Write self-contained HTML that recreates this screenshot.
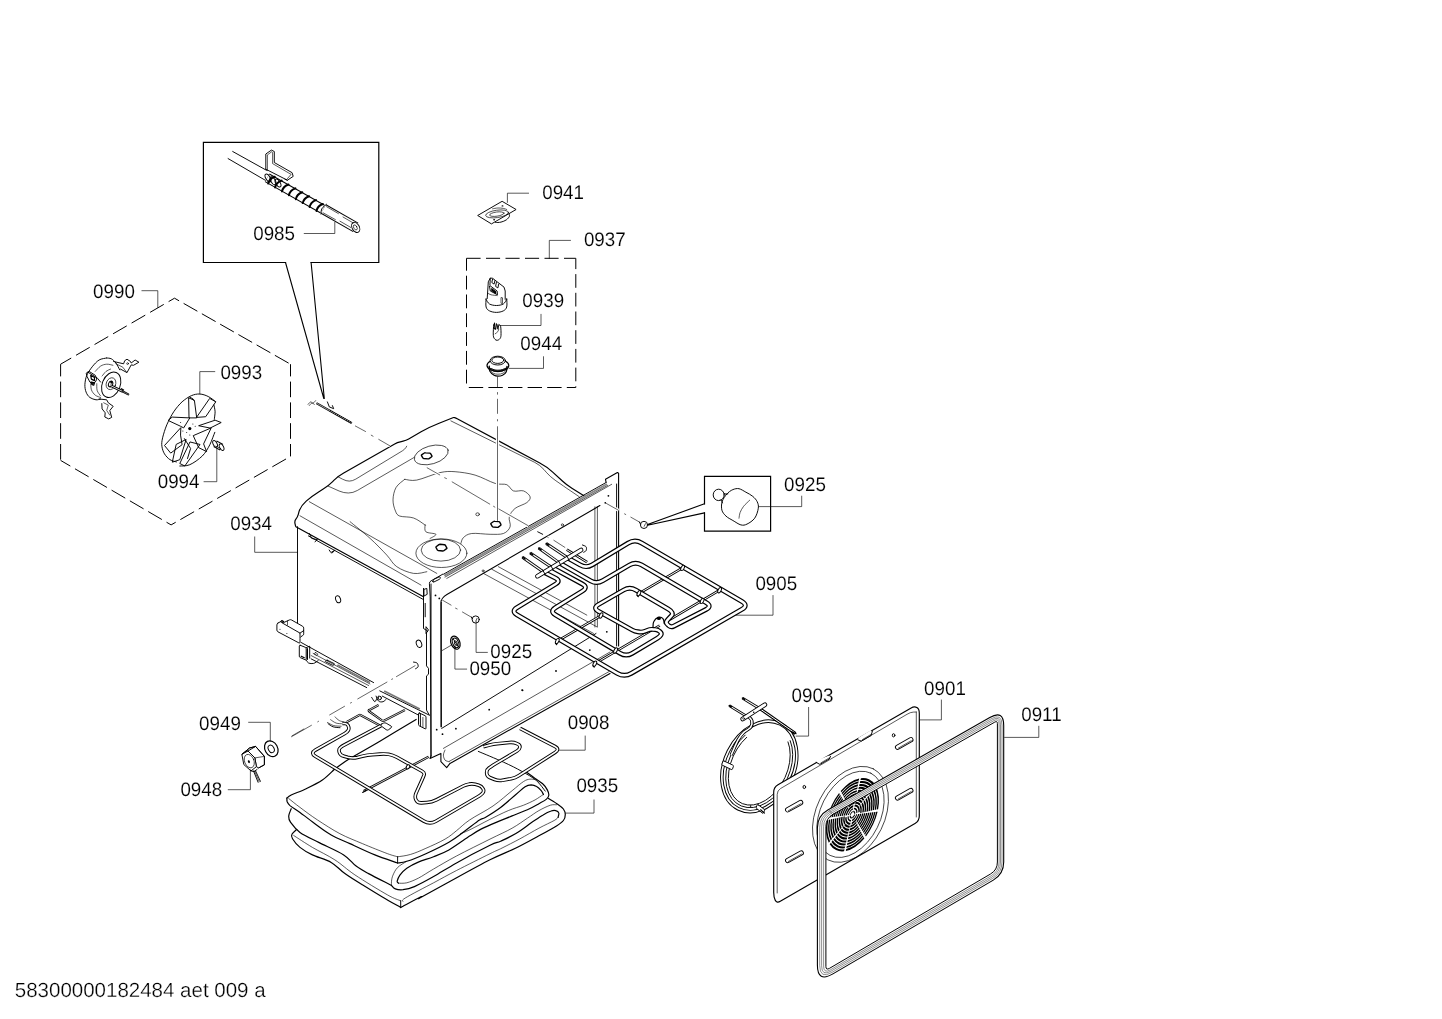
<!DOCTYPE html>
<html lang="en">
<head>
<meta charset="utf-8">
<title>Exploded view 58300000182484 aet 009 a</title>
<style>
html,body{margin:0;padding:0;background:#fff;}
body{width:1442px;height:1019px;overflow:hidden;font-family:"Liberation Sans",sans-serif;}
svg{display:block;position:absolute;left:0;top:0;will-change:transform;}
svg text{font-family:"Liberation Sans",sans-serif;fill:#000;text-rendering:geometricPrecision;stroke:#fff;stroke-width:0.12px;}
.l{fill:none;stroke:#000;stroke-width:0.95;stroke-linecap:round;stroke-linejoin:round;}
.t{fill:none;stroke:#000;stroke-width:0.65;stroke-linecap:round;stroke-linejoin:round;}
.h{fill:none;stroke:#000;stroke-width:1.2;stroke-linecap:round;stroke-linejoin:round;}
.w{fill:#fff;stroke:#000;stroke-width:0.95;stroke-linecap:round;stroke-linejoin:round;}
.d{fill:none;stroke:#000;stroke-width:1.0;stroke-linecap:butt;}
.bx{fill:none;stroke:#000;stroke-width:1.2;stroke-linejoin:miter;stroke-linecap:square;}
.c2{fill:none;stroke:#000;stroke-width:0.6;stroke-linecap:butt;}
.k{fill:#000;stroke:none;}
.hl{fill:none;stroke:#fff;stroke-width:3.2;stroke-linecap:butt;}
.lab{font-size:18.8px;}
</style>
</head>
<body>
<svg width="1442" height="1019" viewBox="0 0 1442 1019">
<rect x="0" y="0" width="1442" height="1019" fill="#fff"/>
<g id="boxes">
<!-- callout 0985 -->
<path class="bx" d="M285.5 262.5H203.4V142.4H378.8V262.5H311.1"/>
<path class="l" d="M285.5 262.5L323.8 398.5M311.1 262.5L324.3 398.5" style="stroke-width:1.1"/>
<!-- dashed hexagon 0990 -->
<path class="d" d="M174.5 298.2L290.5 364.2" stroke-dasharray="15.8 5.2" stroke-dashoffset="10.5"/>
<path class="d" d="M174.5 298.2L60.6 364.2" stroke-dasharray="15.8 5.6" stroke-dashoffset="9"/>
<path class="d" d="M60.6 364.2V460.4" stroke-dasharray="15.6 5.2" stroke-dashoffset="3.4"/>
<path class="d" d="M290.5 364.2V456.4" stroke-dasharray="15.6 5.2" stroke-dashoffset="3.4"/>
<path class="d" d="M171.1 524.9L60.6 460.4" stroke-dasharray="15.8 5.4" stroke-dashoffset="10.5"/>
<path class="d" d="M171.1 524.9L290.5 456.4" stroke-dasharray="15.8 5.4" stroke-dashoffset="10.5"/>
<!-- dashed rect 0937 -->
<path class="d" d="M466.5 258.3H575.8" stroke-dasharray="14.1 5.4" stroke-dashoffset="0"/>
<path class="d" d="M466.5 258.3V387.5" stroke-dasharray="13.8 5" stroke-dashoffset="1.4"/>
<path class="d" d="M575.8 258.3V387.5" stroke-dasharray="13.7 5" stroke-dashoffset="2.9"/>
<path class="d" d="M468.8 387.5H575.8" stroke-dasharray="14.4 5.2" stroke-dashoffset="0"/>
<!-- callout 0925 -->
<path class="bx" d="M704.5 503.8V476.3H770.6V531.2H704.5V512.9"/>
<path class="l" d="M704.5 503.8L647.5 524.4M704.5 512.9L647.5 525.3" style="stroke-width:1.1"/>
</g>

<g id="20_0935">
<path class="h" d="M286.9 798.1C287.6 797.6 288 796.5 291.2 795C294.5 793.4 301 791.2 306.2 788.7C311.4 786.2 317.9 783.1 322.4 780C327 776.9 331.8 771.7 333.7 770C335.5 768.3 331.2 771.7 333.7 769.9C336.2 768.1 341 764.1 348.7 759.3C356.4 754.5 368.7 747.9 379.9 741.2C391.1 734.5 410.1 723 416.1 719.4"/>
<path class="l" d="M478.3 751.4C482.6 753.2 496.4 758.9 503.6 762.2C510.8 765.5 516.3 768.2 521.7 771.3C527.1 774.3 532.2 777 536.1 780.3C540 783.6 543.7 789.3 545.2 791.1"/>
<path class="h" d="M286.9 798.1C286.9 798.7 286.7 800.6 287.2 801.8C287.8 803.1 287.9 803.8 290 805.6C292.1 807.3 295.8 809.4 300 812.4C304.1 815.5 309.7 819.9 314.9 823.7C320.1 827.4 325.3 831.6 331.2 834.9C337 838.2 342.6 840.3 349.9 843.6C357.2 847 366.9 851.7 374.9 854.9C382.8 858.1 393.8 861.6 397.6 863"/>
<path class="t" d="M288.7 798.5C290.6 800 295.2 803.9 300 807.4C304.8 811 310.8 815.6 317.4 819.9C324.1 824.3 332.4 829.7 339.9 833.7C347.4 837.6 354.5 840.3 362.4 843.6C370.3 847 381.5 851.4 387.3 853.6C393.2 855.8 395.9 856.2 397.6 856.8"/>
<path class="l" d="M397.6 856.8L397.6 863"/>
<path class="t" d="M397.6 856.8C399.8 856.4 405.9 855.9 410.6 854.4C415.3 853 420.2 850.9 425.9 848.3C431.7 845.8 440 842.1 445.1 839.1C450.2 836.2 452.5 833.9 456.5 830.7C460.6 827.5 463.5 824.1 469.6 820C475.6 815.9 485.9 810.9 493 806C500.1 801.1 507 794.7 512.1 790.7C517.2 786.6 520.6 783.4 523.6 781.5C526.5 779.6 527.8 779.5 529.7 779.2C531.6 778.9 534.2 779.5 535.1 779.6"/>
<path class="h" d="M397.6 863C399.1 862.7 402.1 862.9 406.8 861.3C411.5 859.8 418.9 856.9 425.9 853.7C432.9 850.5 442.5 845.9 448.9 842.2C455.3 838.5 459.1 835.2 464.2 831.5C469.3 827.8 476 822.3 479.5 820C483 817.7 481.8 819.5 485.3 817.5C488.8 815.4 495.5 811.3 500.6 807.5C505.7 803.7 511.8 797.9 515.9 794.5C520 791.1 522.6 788.4 525.1 786.8C527.7 785.2 529.3 785 531.2 784.9C533.2 784.9 534.9 785.5 536.6 786.5C538.3 787.4 540 789.3 541.2 790.7C542.3 792 543.1 793.9 543.5 794.5"/>
<path class="t" d="M542.7 794.9C541.4 795.7 538.3 798.1 535.1 799.9C531.9 801.6 528 803.4 523.6 805.2C519.1 807 514 808.1 508.3 810.6C502.5 813 495.5 816.6 489.1 819.8C482.8 822.9 474.8 827.4 470 829.7C465.2 832 462 833.1 460.4 833.8"/>
<path class="h" d="M526.6 772.3C528 773.3 532.4 776.5 535.1 778.4C537.7 780.3 540.7 781.9 542.7 783.8C544.8 785.7 546.3 788 547.3 789.9C548.3 791.8 549 793.7 548.8 795.3C548.7 796.8 548.2 797.7 546.5 799.1C544.9 800.5 542.1 801.9 538.9 803.7C535.7 805.5 531.9 807.8 527.4 809.8C522.9 811.8 517.2 813.9 512.1 815.9C507 818 501.9 819.9 496.8 822.1C491.7 824.2 485.9 826.6 481.5 828.9C477 831.2 475.4 832.3 470 835.8C464.6 839.3 455 846.4 448.9 849.9C442.8 853.3 438.7 854.7 433.6 856.7C428.5 858.8 422.7 860.2 418.3 862.1C413.8 864 409.9 866.1 406.8 868.2C403.7 870.4 401.5 872.9 399.9 875.1C398.3 877.3 397.5 879.9 397.2 881.2C397 882.6 398.2 882.8 398.4 883.2"/>
<path class="t" d="M398.4 883.2C399.8 883.1 403.5 883.6 406.8 882.8C410.1 881.9 413.8 880.5 418.3 878.2C422.7 875.9 427.2 872.7 433.6 869C440 865.3 447.1 861 456.5 856C465.9 851 480.7 843.8 490 839.1C499.3 834.5 505.9 831.7 512.1 828.2C518.3 824.7 522.9 821.2 527.4 818.2C531.9 815.3 535.1 812.7 538.9 810.6C542.7 808.4 547.4 806.2 550.4 805.2C553.3 804.3 555.5 804.9 556.5 804.8"/>
<path class="t" d="M406 861.7C404.6 862.7 399.8 865.2 397.6 867.5C395.4 869.7 394 872.8 393 875.1C392 877.4 391.7 879.5 391.5 881.2C391.2 883 391.5 884.7 391.5 885.4"/>
<path class="h" d="M391.5 885.4C392.1 886 393.4 888.2 395.3 888.9C397.2 889.6 399.8 890 403 889.7C406.2 889.3 409.3 888.8 414.4 886.6C419.5 884.4 426.6 880.6 433.6 876.6C440.6 872.7 447.1 868.1 456.5 862.9C465.9 857.6 482.7 848.9 490 845.3C497.3 841.6 496.3 843.1 500.6 841.2C504.9 839.2 510.8 836.6 515.9 833.5C521 830.5 526.8 825.9 531.2 822.8C535.7 819.8 539.4 817.1 542.7 815.2C546 813.2 549 811.7 551.1 811C553.3 810.2 554.5 810.3 555.7 810.6C557 810.9 558.4 811.7 558.8 812.9C559.2 814 558.2 816.7 558 817.5"/>
<path class="t" d="M558 817.5C557.4 818 557.4 818.7 554.2 820.5C551 822.3 544.6 825.1 538.9 828.2C533.2 831.2 525.9 835.6 519.8 838.9C513.6 842.2 507.1 845.5 502.1 848C497.2 850.5 497.6 849.9 490 853.7C482.4 857.4 465.9 865.7 456.5 870.5C447.1 875.4 442.1 878.2 433.6 882.8C425 887.3 410.3 894.9 405.3 898C400.2 901.1 403.5 900.9 403.1 901.4"/>
<path class="h" d="M548.1 798.3C549.7 799.3 555.5 802.7 558 804.4C560.6 806.2 562.2 807.4 563.4 809C564.6 810.7 565.3 812.5 565.3 814.4C565.3 816.3 564.9 818.6 563.4 820.5C561.9 822.4 560.6 823.3 556.5 825.9C552.4 828.4 545.7 832.1 538.9 835.8C532.1 839.5 524.1 844 515.9 848C507.8 852 501.2 854.1 490 859.8C478.8 865.5 460.6 875.6 448.9 882C437.2 888.4 424.5 895.5 419.8 898C415.1 900.5 424 895.2 420.8 896.8C417.6 898.4 404.1 905.7 400.7 907.5"/>
<path class="l" d="M400.7 900.8L400.7 907.5"/>
<path class="h" d="M291.2 808.7C290.8 809.9 288.8 813.9 288.7 816.2C288.6 818.5 288.7 819.7 290.6 822.4C292.5 825.1 295.3 829.1 300 832.4C304.6 835.7 311.4 838.7 318.7 842.4C326 846.1 337.4 850.9 343.7 854.9C349.9 858.8 352 863 356.1 866.1C360.3 869.2 362.7 870.4 368.6 873.6C374.5 876.8 387.7 883.5 391.5 885.5"/>
<path class="h" d="M296.8 829.3C296 830.1 292.6 832.7 291.9 834.3C291.1 835.8 291.1 836.5 292.5 838.7C293.8 840.8 296.6 844.7 300 847.4C303.3 850.1 307.2 852.4 312.4 854.9C317.6 857.4 325.8 859.3 331.2 862.4C336.6 865.5 339.7 869.9 344.9 873.6C350.1 877.4 356.1 881 362.4 884.8C368.6 888.7 376 893.2 382.4 896.9C388.7 900.7 397.6 905.7 400.7 907.5"/>
<path class="t" d="M293.7 835.5C296.8 837.5 305.6 843.3 312.4 847.4C319.3 851.4 327.8 855.3 334.9 859.9C342 864.5 346.2 869 354.9 874.9C363.6 880.7 379.7 890.5 387.3 894.8C395 899.2 398.5 899.8 400.7 900.8"/>
</g>

<g id="25_0908">
<path d="M363.7 791.1L428.6 756.8" fill="none" stroke="#000" stroke-width="2.4" stroke-linecap="butt" stroke-linejoin="round"/><path d="M363.7 791.1L428.6 756.8" fill="none" stroke="#fff" stroke-width="0.8" stroke-linecap="butt" stroke-linejoin="round"/>
<path class="h" d="M362.7 792.4L366.2 790.1"/>
<path d="M346.8 721.9L359 715.2Q359.9 714.7 360.8 715.2L379.9 725.6" fill="none" stroke="#000" stroke-width="2.3" stroke-linecap="butt" stroke-linejoin="round"/><path d="M346.8 721.9L359 715.2Q359.9 714.7 360.8 715.2L379.9 725.6" fill="none" stroke="#fff" stroke-width="0.8" stroke-linecap="butt" stroke-linejoin="round"/>
<path d="M378.6 705L369.4 709.9Q368 710.6 369.3 711.5L381.8 720.4Q383 721.2 384.4 720.5L404.9 710" fill="none" stroke="#000" stroke-width="2.3" stroke-linecap="butt" stroke-linejoin="round"/><path d="M378.6 705L369.4 709.9Q368 710.6 369.3 711.5L381.8 720.4Q383 721.2 384.4 720.5L404.9 710" fill="none" stroke="#fff" stroke-width="0.8" stroke-linecap="butt" stroke-linejoin="round"/>
<path class="t" d="M327.5 722.5C328.5 723 331.4 725 333.7 725.6C336 726.2 340 726.1 341.2 726.2"/>
<path class="t" d="M330.6 719.7C331.5 720.3 334.2 722.4 336.2 723.1C338.2 723.8 341.4 723.6 342.4 723.7"/>
<path class="t" d="M335 716.9C335.7 717.5 337.9 719.8 339.3 720.6C340.8 721.4 343 721.6 343.7 721.9"/>
<path class="l" d="M328.1 723.7C328.9 724.2 331.1 726.2 333.1 726.8C335.1 727.5 338.8 727.6 340 727.7"/>
<path d="M342.4 723.5L345.1 723.5Q347.1 723.6 348 725.4L348.2 725.8Q349.4 728.1 348.4 730.1L348.4 730.1Q347.4 732 344.8 733.5L315.4 750.1Q310.2 753.1 315.3 756.2L423.8 821.1Q429.8 824.7 435.9 821.2L477.9 796.8Q480.5 795.3 482.5 793.3L482.5 793.3Q484.5 791.2 483 788.6L483 788.6Q481.6 786 478.7 785.2L475.2 784.3Q472.3 783.6 469.3 784.1L468.9 784.2Q466 784.7 463.3 786L436.3 799.9Q431.8 802.2 426.8 802.5L421.5 802.9Q417.5 803.1 416 799.9L416 799.9Q414.4 796.8 416.1 793.1L422.2 779.5Q423.4 776.8 424.1 774.8L424.1 774.8Q424.7 772.8 422.1 771.3L396.9 757.3Q392.5 754.9 388.7 754.3L388.7 754.3Q384.9 753.7 379.9 754.1L372.4 754.7Q367.4 755 362.5 756.2L357.3 757.5Q352.4 758.6 347.6 757.3L344 756.2Q340.1 755.2 339.3 752.2L339.3 752.2Q338.4 749.2 340.1 747.8L340.1 747.8Q341.7 746.3 344.4 744.9L381.1 725.6" fill="none" stroke="#000" stroke-width="3.6" stroke-linecap="butt" stroke-linejoin="round"/><path d="M342.4 723.5L345.1 723.5Q347.1 723.6 348 725.4L348.2 725.8Q349.4 728.1 348.4 730.1L348.4 730.1Q347.4 732 344.8 733.5L315.4 750.1Q310.2 753.1 315.3 756.2L423.8 821.1Q429.8 824.7 435.9 821.2L477.9 796.8Q480.5 795.3 482.5 793.3L482.5 793.3Q484.5 791.2 483 788.6L483 788.6Q481.6 786 478.7 785.2L475.2 784.3Q472.3 783.6 469.3 784.1L468.9 784.2Q466 784.7 463.3 786L436.3 799.9Q431.8 802.2 426.8 802.5L421.5 802.9Q417.5 803.1 416 799.9L416 799.9Q414.4 796.8 416.1 793.1L422.2 779.5Q423.4 776.8 424.1 774.8L424.1 774.8Q424.7 772.8 422.1 771.3L396.9 757.3Q392.5 754.9 388.7 754.3L388.7 754.3Q384.9 753.7 379.9 754.1L372.4 754.7Q367.4 755 362.5 756.2L357.3 757.5Q352.4 758.6 347.6 757.3L344 756.2Q340.1 755.2 339.3 752.2L339.3 752.2Q338.4 749.2 340.1 747.8L340.1 747.8Q341.7 746.3 344.4 744.9L381.1 725.6" fill="none" stroke="#fff" stroke-width="1.7" stroke-linecap="butt" stroke-linejoin="round"/>
<ellipse class="w" cx="408" cy="766.8" rx="1.6" ry="2.2" transform="rotate(30 408 766.8)"/>
<path class="w" d="M381.2 724.3L383.5 723.1Q384.9 722.5 386.2 723.2L391.1 726.1Q392.4 726.8 391.2 727.7L388.6 729.7Q387.4 730.6 386.2 729.7L381.1 725.9Q379.9 725 381.2 724.3Z"/>
<path d="M520.1 728.4L554.9 746.4Q560.2 749.1 555.1 752.4L518.6 775.8Q515.2 778 511.3 778.7L502.3 780.3Q498.3 781 494.6 779.5L489.7 777.5Q487 776.4 486.7 773.4L486.7 772.8Q486.4 769.8 488.9 768.1L490.9 766.7Q493.4 765 495.9 763.5L517 751Q519.6 749.5 519.9 747.3L519.9 747.3Q520.3 745.1 517.5 743.9L516.9 743.6Q513.5 742.1 509.5 742.5L497.4 743.7Q493.4 744.1 489.5 745.1L483.4 746.7" fill="none" stroke="#000" stroke-width="3.6" stroke-linecap="butt" stroke-linejoin="round"/><path d="M520.1 728.4L554.9 746.4Q560.2 749.1 555.1 752.4L518.6 775.8Q515.2 778 511.3 778.7L502.3 780.3Q498.3 781 494.6 779.5L489.7 777.5Q487 776.4 486.7 773.4L486.7 772.8Q486.4 769.8 488.9 768.1L490.9 766.7Q493.4 765 495.9 763.5L517 751Q519.6 749.5 519.9 747.3L519.9 747.3Q520.3 745.1 517.5 743.9L516.9 743.6Q513.5 742.1 509.5 742.5L497.4 743.7Q493.4 744.1 489.5 745.1L483.4 746.7" fill="none" stroke="#fff" stroke-width="1.7" stroke-linecap="butt" stroke-linejoin="round"/>
</g>

<g id="30_oven">
<path class="w" d="M429.3 581.7L442.7 574.2 606.1 482.5 605.5 479.3 617.4 472.5 618.4 473 618.4 669 450 763.4 446.7 767.6 440.9 761.7 440.9 753.4 430 758.4Z" style="stroke:none"/>
<path class="w" d="M297.5 526.7L423.5 596.8 431 756 427.6 713.4 301.7 641.7Z" style="stroke:none"/>
<path class="h" d="M453.5 417.5L439.1 423.2Q429.8 426.8 421.1 431.8L408.7 439.1Q406.1 440.6 403.1 441.2L400.3 441.8Q397.3 442.4 394.7 443.9L343.3 473.2Q338 476.1 333.8 480.4L332.9 481.3Q328.7 485.5 323.6 488.7L318.6 491.9Q311.8 496.1 306.2 501.1L306.2 501.1Q300.6 506.1 299 511.7L298.3 514.4Q297.5 517.3 295.9 519.2L295.9 519.2Q294.4 521.1 295 523.6L295.6 526.1"/>
<path class="h" d="M453.5 417.5L454.7 417.7Q455.9 418 457.2 418.7L539.8 463Q546.8 466.7 552.7 472.1L562.4 481Q566.8 485.1 571.9 488.2L584.3 495.9"/>
<path class="t" d="M450.9 420.9L534.8 462.4Q540.1 465.1 544 469.6L546.2 472.2Q550.1 476.7 555.1 480.2L563.6 486.1Q566.8 488.4 570.2 490.6L579.3 496.8"/>
<path class="t" d="M338 476.8L342.6 479.2Q346.2 481.1 349.3 481.1L349.3 481.1Q352.4 481.1 355.8 479.1L402.3 450.9Q404.8 449.3 405.8 447.7L406.7 446.2"/>
<path class="t" d="M328.1 486.1L339.1 491Q343.7 493 348.3 493L348.3 493Q353 493 357.3 490.5L414.2 457.4"/>
<ellipse class="t" cx="431.3" cy="454.9" rx="17.5" ry="9" transform="rotate(-16 431.3 454.9)"/>
<path class="h" d="M431.7 456.7L429.1 458.6Q428.6 459 428 458.9L423.7 458.5Q423.1 458.4 422.8 457.9L421.5 455.7Q421.2 455.2 421.6 454.9L424.3 453Q424.8 452.6 425.4 452.7L429.7 453.1Q430.3 453.2 430.6 453.7L431.9 455.9Q432.2 456.4 431.7 456.7Z" style="stroke-width:1.4"/>
<path class="h" d="M500.8 525.2L498.3 527.1Q497.8 527.5 497.2 527.4L493.1 527Q492.5 526.9 492.2 526.4L490.9 524.2Q490.6 523.7 491.1 523.3L493.6 521.5Q494.1 521.1 494.7 521.2L498.8 521.6Q499.4 521.7 499.7 522.2L500.9 524.4Q501.2 524.9 500.8 525.2Z" style="stroke-width:1.4"/>
<path class="h" d="M446.6 548.6L443.8 550.7Q443.4 551 442.8 551L438.2 550.5Q437.6 550.4 437.3 549.9L436 547.5Q435.7 547 436.1 546.7L438.9 544.6Q439.4 544.3 440 544.3L444.5 544.8Q445.1 544.9 445.4 545.4L446.8 547.8Q447.1 548.3 446.6 548.6Z" style="stroke-width:1.4"/>
<ellipse class="t" cx="441.4" cy="553.2" rx="25.5" ry="14.3"/>
<ellipse class="t" cx="440.9" cy="550.1" rx="19.7" ry="11"/>
<ellipse class="t" cx="477.6" cy="514.3" rx="1.8" ry="1.5"/>
<path class="t" d="M404.8 479.3C406.8 479.4 410.8 481.2 416.7 480.1C422.6 479 433.6 474 440 472.6C446.4 471.2 449.2 471.3 455.1 471.7C460.9 472.2 468.4 473.1 475.1 475.1C481.7 477 489.8 481.8 495.1 483.4C500.4 485 503.7 483.5 506.8 484.7C509.8 486 510.7 489.9 513.4 490.9C516.2 492 520.7 489.9 523.5 490.9C526.2 491.9 529.6 494.8 530.1 496.8C530.7 498.7 529.3 500.7 526.8 502.6C524.3 504.5 518 506.1 515.1 508.4C512.2 510.8 510.1 513.7 509.3 516.8C508.4 519.8 511.1 524 510.1 526.8C509.1 529.6 506.8 532.2 503.4 533.5C500.1 534.7 495.4 534.3 490.1 534.3C484.8 534.3 476.2 532.9 471.7 533.5C467.3 534 465.2 536 463.4 537.6C461.6 539.3 461.3 542.5 460.9 543.5"/>
<path class="t" d="M404.8 479.3C403.4 480.6 398.1 483.9 396.1 487.4C394.1 490.8 393.1 495.9 393 499.9C392.9 503.8 394.3 508.4 395.5 511.1C396.6 513.8 396.8 514.9 399.8 516.1C402.9 517.2 409.4 516.5 413.6 518C417.7 519.4 422.9 523.6 424.8 524.8C426.7 526 424.8 524 425 525.1C425.2 526.3 424.1 530.3 425.9 531.8C427.7 533.3 435.2 533.2 435.9 534.3C436.6 535.4 431 537.8 430 538.5"/>
<path class="t" d="M309.3 501.7L436.8 573.4"/>
<path class="t" d="M300 515.8L421 585.1"/>
<path class="t" d="M350.1 521.7C353.4 524.5 364 532.8 370.1 538.4C376.2 543.9 382.3 550.3 386.8 555.1C391.2 559.8 392.3 563.7 396.8 566.7C401.2 569.8 408.5 572.6 413.5 573.4C418.5 574.2 424.6 572 426.8 571.7"/>
<path class="h" d="M295.9 526.7L423.5 596.8"/>
<path class="l" d="M308.4 535.9L423.5 599.6"/>
<path class="l" d="M309.2 533.4L311.7 538.4 317.5 539.7 315 541.7"/>
<path class="l" d="M329.2 550L330.9 552.6 335.1 550 332.1 553.1"/>
<path class="l" d="M443.5 574.2L606.1 482.5"/>
<path class="t" d="M444.3 575.7L606.9 484" style="stroke:#888;stroke-width:1.9;stroke-linecap:butt"/>
<path class="t" d="M445 577.1L607.6 485.4"/>
<path class="t" d="M446.8 578.4L611.7 484.3"/>
<path class="l" d="M606.1 482.5L605.5 479.3 617.4 472.5 618.6 473.2 618.6 646" style="stroke-width:1.1"/>
<path class="l" d="M616.6 484L616.6 646"/>
<path class="l" d="M431 756L430.2 596.8L429.4 583.7Q429.3 581.7 431.1 580.8L442.7 574.2"/>
<path class="l" d="M432.9 581.4L433 580.9Q433.2 579.7 434.2 579.2L439.1 576.9Q440.2 576.4 440.3 577.6L440.3 577.6Q440.5 578.7 439.4 579.3L433.7 582.1Q432.7 582.6 432.9 581.4Z"/>
<path class="l" d="M441.2 726.8L441 603.1Q441 600.1 442.7 598L442.7 598Q444.3 595.9 446.9 594.4L599.9 505.6" style="stroke-width:1.1"/>
<path class="t" d="M594.9 506.8L594.9 627"/>
<path class="t" d="M597.4 506.4L597.4 627"/>
<path class="l" d="M441.7 728.4L596 633.5"/>
<path class="t" d="M443.4 748.4L610 652"/>
<path class="l" d="M431 756L430 758.4 440.9 753.4 440.9 761.7 446.7 767.6 450 763.4 610 673.6" style="stroke-width:1.1"/>
<path class="t" d="M449.2 761.4L609 671.6"/>
<path class="t" d="M445 750.1C444.7 750.9 443.4 753.4 443.4 755.1C443.4 756.7 444.1 759 445 760.1C446 761.2 448.5 761.5 449.2 761.7"/>
<path class="t" d="M483.4 573.4L593.5 633.4"/>
<path class="t" d="M491.7 569.2L596.8 626.8"/>
<path class="t" d="M498.4 566.7L586.8 615.1"/>
<ellipse class="k" cx="608.4" cy="495.8" rx="0.9" ry="0.9"/>
<ellipse class="k" cx="605.3" cy="502.8" rx="0.9" ry="0.9"/>
<ellipse class="k" cx="435.5" cy="595.4" rx="0.9" ry="0.9"/>
<ellipse class="k" cx="439.3" cy="598.4" rx="0.9" ry="0.9"/>
<ellipse class="k" cx="436.7" cy="729.7" rx="0.9" ry="0.9"/>
<ellipse class="k" cx="442.5" cy="734.2" rx="0.9" ry="0.9"/>
<ellipse class="k" cx="455.9" cy="728.7" rx="0.9" ry="0.9"/>
<ellipse class="k" cx="489.2" cy="709.7" rx="0.9" ry="0.9"/>
<ellipse class="k" cx="522.6" cy="690.3" rx="0.9" ry="0.9"/>
<ellipse class="k" cx="556" cy="671" rx="0.9" ry="0.9"/>
<ellipse class="k" cx="589.8" cy="650.1" rx="0.9" ry="0.9"/>
<ellipse class="k" cx="606.8" cy="631.8" rx="0.9" ry="0.9"/>
<ellipse class="k" cx="522.1" cy="690.1" rx="0.9" ry="0.9"/>
<ellipse class="t" cx="562.4" cy="524.9" rx="1.1" ry="1.1"/>
<ellipse class="t" cx="483.1" cy="570.9" rx="1" ry="1"/>
<path class="l" d="M297.5 526.7L297.5 636.5"/>
<path class="l" d="M423.5 588.4L423.5 628.5 427.7 631 426 633.5 426 626.7 428.5 630 426.5 632.5 426.5 665.9 428.5 668.4 428.5 674.2 426.5 675.9 426.5 710.1 429.3 715.1"/>
<path class="l" d="M424.3 589.3L426.8 588.4 427.2 594.3 424.3 595.9Z"/>
<path class="l" d="M425.2 603.4V616.8" stroke-width="2" stroke="#555"/>
<ellipse class="l" cx="338.1" cy="599.3" rx="2.4" ry="3.6" transform="rotate(-20 338.1 599.3)"/>
<ellipse class="l" cx="419" cy="643.8" rx="2.6" ry="3.8" transform="rotate(-20 419 643.8)"/>
<path class="l" d="M413.5 662.1C414.1 662.2 416.4 662.3 417.1 663.1C417.9 663.8 418.4 665.8 418.1 666.7C417.9 667.7 415.9 668.4 415.5 668.7"/>
<path class="w" d="M277.9 623.1L281.4 621.2Q282.5 620.6 282.5 621.8L282.5 621.9Q282.5 623.1 283.6 622.6L289.5 619.9Q290.6 619.4 291.6 620L302.7 626.3Q303.7 626.9 303.7 628.1L303.7 633.8Q303.7 635 302.7 635.6L301 636.6Q300 637.2 300 638.4L300 642.3Q300 643.5 298.9 642.9L277.9 631.8Q276.9 631.2 276.9 630L276.9 624.9Q276.9 623.7 277.9 623.1Z"/>
<path class="l" d="M282.5 623.1L300 633.1 300 637.2"/>
<path class="l" d="M300 633.1L303.7 630.6"/>
<path class="t" d="M287.5 621L287.5 625"/>
<ellipse class="l" cx="282.2" cy="621.5" rx="1.4" ry="1"/>
<ellipse class="k" cx="280" cy="629.3" rx="0.5" ry="0.5"/>
<ellipse class="k" cx="286.9" cy="633.5" rx="0.5" ry="0.5"/>
<path class="l" d="M301.2 642.5L373.6 682.6"/>
<path class="l" d="M311.2 658.9L366.7 687.6"/>
<path class="t" d="M313.1 653.4L369.9 683.9"/>
<path class="t" d="M311.2 655.6L368.6 685.5"/>
<path class="t" d="M337.4 664.9L369.9 682.4" style="stroke:#777;stroke-width:1.7;stroke-linecap:butt"/>
<path class="t" d="M315.7 652.7L317.5 653.7Q318.1 653.9 317.7 654.4L317.2 655.1Q316.8 655.6 316.3 655.3L314.5 654.2Q313.9 653.9 314.3 653.5L314.8 652.9Q315.2 652.4 315.7 652.7Z"/>
<path class="l" d="M327.5 660.3L334.2 663.6Q334.9 663.9 334.3 664.4L333.6 665Q333 665.5 332.3 665.2L325.6 661.8Q324.9 661.4 325.5 660.9L326.2 660.4Q326.8 659.9 327.5 660.3Z"/>
<path class="w" d="M300.3 645.3L305.3 647.3Q306.2 647.7 306.2 648.7L306.2 659.2Q306.2 660.2 305.3 659.8L300.3 657.6Q299.3 657.2 299.3 656.2L299.3 646Q299.3 645 300.3 645.3Z"/>
<path class="l" d="M306.2 647.7L309.7 646.2 309.7 658.1"/>
<path class="l" d="M306.2 660.2C306.6 660.7 307.4 662.5 308.7 663.1C309.9 663.6 312.1 663.8 313.7 663.4C315.2 663 317.3 661 318.1 660.6"/>
<path class="h" d="M307.4 648.7L307.4 659.3"/>
<path class="h" d="M301.2 656.2L304.3 657.7"/>
<path class="l" d="M379.8 690.9L429.2 715.1"/>
<path class="t" d="M384.2 690.9L419.8 709" style="stroke:#777;stroke-width:1.7;stroke-linecap:butt"/>
<path class="l" d="M382.3 696.1L418.5 715.1"/>
<path class="w" d="M419.4 713L425.1 715.7Q426 716.1 426 717.1L426 728.2Q426 729.2 425.1 728.8L419.4 725.9Q418.5 725.5 418.5 724.5L418.5 713.6Q418.5 712.6 419.4 713Z"/>
<path class="l" d="M420.4 714.2L420.4 726.1"/>
<path class="t" d="M422.9 717.4L422.9 727.3"/>
<path class="l" d="M376.1 696.1C376.5 697 377.5 700.2 378.6 701.1C379.7 702.1 381.7 702.1 383 701.7C384.2 701.4 385.6 699.7 386.1 699.3"/>
<path class="l" d="M371.7 697.4C372.3 698.1 373.9 701.7 374.9 701.7C375.8 701.7 376.7 698.3 377.4 697.4C378 696.4 378.4 696.3 378.6 696.1"/>
<ellipse class="l" cx="379.8" cy="698" rx="1.6" ry="1.8"/>
<path class="l" d="M431 584L431 756"/>
<path class="l" d="M441.2 600.5L441.2 726.8"/>
</g>

<g id="40_axes">
<path class="hl" d="M497.5 392.1L497.5 394.6"/>
<path class="hl" d="M497.5 398.8L497.5 413.8"/>
<path class="hl" d="M497.5 419.2L497.5 421.3"/>
<path class="hl" d="M497.5 426.3L497.5 520.9"/>
<path class="hl" d="M355 425.8L365.9 431.7"/>
<path class="hl" d="M370.9 435L373.4 436.4"/>
<path class="hl" d="M378.4 439.2L390 445.9"/>
<path class="hl" d="M426.8 467.6L440.1 475.1"/>
<path class="hl" d="M444.3 477.6L446.8 478.7"/>
<path class="hl" d="M451.8 481.7L490.1 504.3"/>
<path class="hl" d="M493.2 506.1L495.2 507.3"/>
<path class="hl" d="M498.5 508.8L528.5 525.9"/>
<path class="hl" d="M547.2 536.8L548.5 537.6"/>
<path class="hl" d="M553.5 540.1L565.2 547.6"/>
<path class="hl" d="M606.1 503.3L618.6 510.3"/>
<path class="hl" d="M624.2 513.7L626.1 514.7"/>
<path class="hl" d="M630.5 517L640.1 522.4"/>
<path class="hl" d="M442.2 600L451.4 605.3"/>
<path class="hl" d="M455.2 608L457.5 609.1"/>
<path class="hl" d="M462.1 611.8L470.7 616.8"/>
<path class="hl" d="M415.4 665.5L396.1 676.8"/>
<path class="hl" d="M393 678.7L391.3 679.5"/>
<path class="hl" d="M387.3 681.9L357.4 699.1"/>
<path class="hl" d="M351.8 702.4L350.1 703.2"/>
<path class="hl" d="M344.9 706.1L329.3 715.1"/>
<path class="hl" d="M318.9 721.1L317.4 722"/>
<path class="hl" d="M311.8 725.1L291.2 736.9"/>
<path class="hl" d="M304.2 728.8L291.7 736"/>
<path class="c2" d="M497.5 376.7L497.5 387.9"/>
<path class="c2" d="M497.5 392.1L497.5 394.6"/>
<path class="c2" d="M497.5 398.8L497.5 413.8"/>
<path class="c2" d="M497.5 419.2L497.5 421.3"/>
<path class="c2" d="M497.5 426.3L497.5 520.9"/>
<path class="c2" d="M355 425.8L365.9 431.7"/>
<path class="c2" d="M370.9 435L373.4 436.4"/>
<path class="c2" d="M378.4 439.2L390 445.9"/>
<path class="c2" d="M426.8 467.6L440.1 475.1"/>
<path class="c2" d="M444.3 477.6L446.8 478.7"/>
<path class="c2" d="M451.8 481.7L490.1 504.3"/>
<path class="c2" d="M493.2 506.1L495.2 507.3"/>
<path class="c2" d="M498.5 508.8L528.5 525.9"/>
<path class="c2" d="M547.2 536.8L548.5 537.6"/>
<path class="c2" d="M553.5 540.1L565.2 547.6"/>
<path class="l" d="M537.7 531.8L542.7 534.3"/>
<path class="c2" d="M606.1 503.3L618.6 510.3"/>
<path class="c2" d="M624.2 513.7L626.1 514.7"/>
<path class="c2" d="M630.5 517L640.1 522.4"/>
<path class="c2" d="M442.2 600L451.4 605.3"/>
<path class="c2" d="M455.2 608L457.5 609.1"/>
<path class="c2" d="M462.1 611.8L470.7 616.8"/>
<path class="c2" d="M415.4 665.5L396.1 676.8"/>
<path class="c2" d="M393 678.7L391.3 679.5"/>
<path class="c2" d="M387.3 681.9L357.4 699.1"/>
<path class="c2" d="M351.8 702.4L350.1 703.2"/>
<path class="c2" d="M344.9 706.1L329.3 715.1"/>
<path class="c2" d="M318.9 721.1L317.4 722"/>
<path class="c2" d="M311.8 725.1L291.2 736.9"/>
<path class="c2" d="M304.2 728.8L291.7 736"/>
</g>

<g id="50_0905">
<path d="M557.3 641.1L602.4 614.8" fill="none" stroke="#000" stroke-width="2.6" stroke-linecap="butt" stroke-linejoin="round"/><path d="M557.3 641.1L602.4 614.8" fill="none" stroke="#fff" stroke-width="1" stroke-linecap="butt" stroke-linejoin="round"/>
<path d="M637.5 594.3L682.6 567.9" fill="none" stroke="#000" stroke-width="2.6" stroke-linecap="butt" stroke-linejoin="round"/><path d="M637.5 594.3L682.6 567.9" fill="none" stroke="#fff" stroke-width="1" stroke-linecap="butt" stroke-linejoin="round"/>
<path d="M594.8 663.7L659.7 625.5" fill="none" stroke="#000" stroke-width="2.6" stroke-linecap="butt" stroke-linejoin="round"/><path d="M594.8 663.7L659.7 625.5" fill="none" stroke="#fff" stroke-width="1" stroke-linecap="butt" stroke-linejoin="round"/>
<path d="M669.7 619.6L719.6 590.2" fill="none" stroke="#000" stroke-width="2.6" stroke-linecap="butt" stroke-linejoin="round"/><path d="M669.7 619.6L719.6 590.2" fill="none" stroke="#fff" stroke-width="1" stroke-linecap="butt" stroke-linejoin="round"/>
<path d="M566.8 549.7L587.1 562.2" fill="none" stroke="#000" stroke-width="2.6" stroke-linecap="butt" stroke-linejoin="round"/><path d="M566.8 549.7L587.1 562.2" fill="none" stroke="#fff" stroke-width="1" stroke-linecap="butt" stroke-linejoin="round"/>
<path class="l" d="M582.4 545C583 545.3 585.5 545.9 586.1 546.8C586.8 547.8 586.5 549.7 586.1 550.6C585.7 551.5 584 551.9 583.6 552.2"/>
<path d="M522.5 557.2L543.9 572.2" fill="none" stroke="#000" stroke-width="3" stroke-linecap="butt" stroke-linejoin="round"/><path d="M522.5 557.2L543.9 572.2" fill="none" stroke="#fff" stroke-width="1.2" stroke-linecap="butt" stroke-linejoin="round"/>
<path d="M522.5 557.2L525 559" fill="none" stroke="#000" stroke-width="1.5" stroke-linecap="round"/>
<path d="M530.2 553.1L551.8 567.4" fill="none" stroke="#000" stroke-width="3" stroke-linecap="butt" stroke-linejoin="round"/><path d="M530.2 553.1L551.8 567.4" fill="none" stroke="#fff" stroke-width="1.2" stroke-linecap="butt" stroke-linejoin="round"/>
<path d="M530.2 553.1L532.8 554.8" fill="none" stroke="#000" stroke-width="1.5" stroke-linecap="round"/>
<path d="M538.7 548.1L559.7 563.1" fill="none" stroke="#000" stroke-width="3" stroke-linecap="butt" stroke-linejoin="round"/><path d="M538.7 548.1L559.7 563.1" fill="none" stroke="#fff" stroke-width="1.2" stroke-linecap="butt" stroke-linejoin="round"/>
<path d="M538.7 548.1L541.2 549.9" fill="none" stroke="#000" stroke-width="1.5" stroke-linecap="round"/>
<path d="M546.2 543.5L568 558.1" fill="none" stroke="#000" stroke-width="3" stroke-linecap="butt" stroke-linejoin="round"/><path d="M546.2 543.5L568 558.1" fill="none" stroke="#fff" stroke-width="1.2" stroke-linecap="butt" stroke-linejoin="round"/>
<path d="M546.2 543.5L548.8 545.2" fill="none" stroke="#000" stroke-width="1.5" stroke-linecap="round"/>
<path d="M543.9 572.2L555.6 578.1Q560.9 580.9 555.8 584L517 607.6Q511 611.2 517.1 614.8L617.4 673.3Q624.4 677.4 631.3 673.3L741.8 609.4Q748.7 605.4 741.8 601.4L641.8 543.1Q634.9 539 628 543.2L592.2 564.8Q586.2 568.4 580.1 564.9L568 558.1" fill="none" stroke="#000" stroke-width="4.9" stroke-linecap="butt" stroke-linejoin="round"/><path d="M543.9 572.2L555.6 578.1Q560.9 580.9 555.8 584L517 607.6Q511 611.2 517.1 614.8L617.4 673.3Q624.4 677.4 631.3 673.3L741.8 609.4Q748.7 605.4 741.8 601.4L641.8 543.1Q634.9 539 628 543.2L592.2 564.8Q586.2 568.4 580.1 564.9L568 558.1" fill="none" stroke="#fff" stroke-width="2.5" stroke-linecap="butt" stroke-linejoin="round"/>
<path d="M551.8 567.4L582.3 584Q588.4 587.3 582.5 591L555.5 607.6Q549.5 611.3 555.5 614.8L620.2 653.3Q626.2 656.9 632.2 653.3L657.5 638.1Q660.1 636.6 661 634.9L661 634.9Q661.9 633.3 660 631.6L660 631.6Q658.2 629.8 655.2 629.6L652.9 629.4Q649.9 629.2 647.1 630.4L645.2 631.2Q642.5 632.4 639.5 632L637.8 631.8Q634.8 631.5 632.2 630L598.6 611.4Q592.5 608 598.5 604.5L623.7 590Q629.8 586.5 635.9 590.1L668.4 609.2Q674.4 612.8 671.4 615.8L670.4 616.8Q668.3 618.9 666.9 620.8L666.9 620.8Q665.4 622.8 667.7 624.7L668.8 625.7Q671 627.6 673.7 626.2L706 609.5Q712.3 606.2 706.2 602.7L641.5 564.9Q635.5 561.4 629.5 565L602.8 580.7Q596.7 584.3 590.7 580.8L559.7 563.1" fill="none" stroke="#000" stroke-width="4.9" stroke-linecap="butt" stroke-linejoin="round"/><path d="M551.8 567.4L582.3 584Q588.4 587.3 582.5 591L555.5 607.6Q549.5 611.3 555.5 614.8L620.2 653.3Q626.2 656.9 632.2 653.3L657.5 638.1Q660.1 636.6 661 634.9L661 634.9Q661.9 633.3 660 631.6L660 631.6Q658.2 629.8 655.2 629.6L652.9 629.4Q649.9 629.2 647.1 630.4L645.2 631.2Q642.5 632.4 639.5 632L637.8 631.8Q634.8 631.5 632.2 630L598.6 611.4Q592.5 608 598.5 604.5L623.7 590Q629.8 586.5 635.9 590.1L668.4 609.2Q674.4 612.8 671.4 615.8L670.4 616.8Q668.3 618.9 666.9 620.8L666.9 620.8Q665.4 622.8 667.7 624.7L668.8 625.7Q671 627.6 673.7 626.2L706 609.5Q712.3 606.2 706.2 602.7L641.5 564.9Q635.5 561.4 629.5 565L602.8 580.7Q596.7 584.3 590.7 580.8L559.7 563.1" fill="none" stroke="#fff" stroke-width="2.5" stroke-linecap="butt" stroke-linejoin="round"/>
<path d="M537.4 576.2L581.1 550" fill="none" stroke="#000" stroke-width="4.6" stroke-linecap="round"/><path d="M537.4 576.2L581.1 550" fill="none" stroke="#fff" stroke-width="2.8" stroke-linecap="round"/>
<path class="l" d="M542.7 570L545.1 574.4"/>
<path class="l" d="M550.6 565.2L553 569.6"/>
<path class="l" d="M558.5 560.9L560.9 565.3"/>
<path class="l" d="M566.8 555.9L569.2 560.3"/>
<ellipse class="w" cx="557.3" cy="641.1" rx="1.5" ry="2.9" transform="rotate(28 557.3 641.1)"/>
<ellipse class="w" cx="594.8" cy="663.7" rx="1.5" ry="2.9" transform="rotate(28 594.8 663.7)"/>
<ellipse class="w" cx="601" cy="615.5" rx="1.5" ry="2.9" transform="rotate(28 601 615.5)"/>
<ellipse class="w" cx="615.6" cy="650.5" rx="1.5" ry="2.9" transform="rotate(28 615.6 650.5)"/>
<ellipse class="w" cx="638.9" cy="593.2" rx="1.5" ry="2.9" transform="rotate(28 638.9 593.2)"/>
<ellipse class="w" cx="682.6" cy="567.9" rx="1.5" ry="2.9" transform="rotate(28 682.6 567.9)"/>
<ellipse class="w" cx="702.1" cy="600.9" rx="1.5" ry="2.9" transform="rotate(28 702.1 600.9)"/>
<ellipse class="w" cx="719.6" cy="590.2" rx="1.5" ry="2.9" transform="rotate(28 719.6 590.2)"/>
<path class="h" d="M555.5 643.3L556.7 644.5"/>
<path class="h" d="M593 665.9L594.2 667.1"/>
<path class="h" d="M637.1 595.4L638.3 596.6"/>
<path class="h" d="M653 627.4C653.1 626.5 652.8 623.5 653.7 621.8C654.5 620.1 656.5 617.9 658 617.4C659.6 616.9 662 617.6 663 618.7C664.1 619.7 664.1 622.8 664.3 623.7" stroke-width="1.8"/>
<ellipse class="k" cx="658.9" cy="618.4" rx="2" ry="1.6"/>
</g>

<g id="60_fan">
<ellipse class="l" cx="759.3" cy="766.4" rx="48.7" ry="35.8" transform="rotate(-63.6 759.3 766.4)"/>
<ellipse class="l" cx="759.3" cy="766.4" rx="46.1" ry="33.2" transform="rotate(-63.6 759.3 766.4)"/>
<path class="l" d="M790.2 740.6A43.5 30.6 -63.6 1 1 745.2 735.1"/>
<path class="l" d="M788 741.9A40.9 28 -63.6 1 1 746.7 737.3"/>
<path d="M729.3 705.6L745.6 715.6" fill="none" stroke="#000" stroke-width="2.8" stroke-linecap="butt" stroke-linejoin="round"/><path d="M729.3 705.6L745.6 715.6" fill="none" stroke="#fff" stroke-width="1.1" stroke-linecap="butt" stroke-linejoin="round"/>
<path d="M729.3 705.6L731.3 706.8" fill="none" stroke="#000" stroke-width="1.6" stroke-linecap="round"/>
<path d="M742.5 698.1L759.9 708.7" fill="none" stroke="#000" stroke-width="2.8" stroke-linecap="butt" stroke-linejoin="round"/><path d="M742.5 698.1L759.9 708.7" fill="none" stroke="#fff" stroke-width="1.1" stroke-linecap="butt" stroke-linejoin="round"/>
<path d="M742.5 698.1L744.6 699.4" fill="none" stroke="#000" stroke-width="1.6" stroke-linecap="round"/>
<path d="M747.4 715.6C748.2 716.4 751.3 718.6 751.8 720.6C752.3 722.6 751.9 725.5 750.6 727.4C749.2 729.4 745.8 730.4 743.7 732.4C741.6 734.5 740.2 736.2 738.1 739.9C736 743.7 732.4 752.4 731.2 754.9" fill="none" stroke="#000" stroke-width="3.4" stroke-linecap="butt" stroke-linejoin="round"/><path d="M747.4 715.6C748.2 716.4 751.3 718.6 751.8 720.6C752.3 722.6 751.9 725.5 750.6 727.4C749.2 729.4 745.8 730.4 743.7 732.4C741.6 734.5 740.2 736.2 738.1 739.9C736 743.7 732.4 752.4 731.2 754.9" fill="none" stroke="#fff" stroke-width="1.6" stroke-linecap="butt" stroke-linejoin="round"/>
<path d="M759.9 708.7L795.5 733.4" fill="none" stroke="#000" stroke-width="3" stroke-linecap="butt" stroke-linejoin="round"/><path d="M759.9 708.7L795.5 733.4" fill="none" stroke="#fff" stroke-width="1" stroke-linecap="butt" stroke-linejoin="round"/>
<path class="h" d="M791.8 731.8L796.1 733.7"/>
<path d="M742.7 719L764.9 704.7" fill="none" stroke="#000" stroke-width="4.6" stroke-linecap="round"/><path d="M742.7 719L764.9 704.7" fill="none" stroke="#fff" stroke-width="2.8" stroke-linecap="round"/>
<ellipse class="k" cx="753.7" cy="712.2" rx="0.8" ry="0.8"/>
<ellipse class="t" cx="743.7" cy="718.5" rx="1" ry="0.8"/>
<path class="w" d="M724 761L732.8 765.1Q733.7 765.5 733.4 766.5L732.5 768.9Q732.2 769.9 731.3 769.5L722.5 765.3Q721.6 764.9 721.9 764L722.8 761.5Q723.1 760.5 724 761Z"/>
<path class="w" d="M758.2 804.8L764.1 809.2Q764.9 809.8 764.5 810.7L763.5 812.7Q763.1 813.6 762.3 813L756.7 808.6Q755.9 808 756.3 807L757.1 805.1Q757.4 804.2 758.2 804.8Z"/>
<path class="h" d="M760.6 809.8L764.3 813"/>
<ellipse class="k" cx="750.6" cy="806.1" rx="0.8" ry="0.8"/>
<path class="w" d="M778 784.7L910.7 708.2Q914.2 706.2 916.7 707.4L916.7 707.4Q919.3 708.5 919.3 713.5L919.3 816Q919.3 821 915 823.5L780.3 901.3Q776.9 903.3 775.3 900.4L775.3 900.4Q773.7 897.5 773.7 892.5L773.7 792.2Q773.7 787.2 778 784.7Z" style="stroke-width:1.15"/>
<path class="t" d="M777.2 893L777.2 794.5Q777.2 790.5 780.6 788.5L907 714.3Q910.4 712.2 913.4 712.1L916.3 712"/>
<path class="t" d="M916.3 712L916.3 817"/>
<path d="M817 761.9L829.7 756.9" fill="none" stroke="#fff" stroke-width="3.2"/>
<path class="l" d="M816.2 762.4L819.9 764.4 829.3 759 830.5 756.4"/>
<path class="t" d="M820.9 762.9L829.5 757.8"/>
<path d="M858.8 739.4L871.6 731.7" fill="none" stroke="#fff" stroke-width="3.2"/>
<path class="l" d="M858 739.9L861.4 741.1 871.1 735.5 872.4 731.2"/>
<path class="t" d="M862.4 739.6L871.4 734.2"/>
<ellipse class="l" cx="804.3" cy="787" rx="1.3" ry="1.6"/>
<ellipse class="l" cx="893.6" cy="735.3" rx="1.3" ry="1.6"/>
<path d="M787.7 809.8L800.6 802.6" fill="none" stroke="#000" stroke-width="5.3" stroke-linecap="round"/><path d="M787.7 809.8L800.6 802.6" fill="none" stroke="#fff" stroke-width="3.5" stroke-linecap="round"/><path class="t" d="M788.3 810.8L801 803.6"/>
<path d="M897.6 747.2L910.8 739.7" fill="none" stroke="#000" stroke-width="5.3" stroke-linecap="round"/><path d="M897.6 747.2L910.8 739.7" fill="none" stroke="#fff" stroke-width="3.5" stroke-linecap="round"/><path class="t" d="M898.2 748.2L911.2 740.7"/>
<path d="M897.6 798L910.8 790.5" fill="none" stroke="#000" stroke-width="5.3" stroke-linecap="round"/><path d="M897.6 798L910.8 790.5" fill="none" stroke="#fff" stroke-width="3.5" stroke-linecap="round"/><path class="t" d="M898.2 799L911.2 791.5"/>
<path d="M787.7 860.5L801.2 853" fill="none" stroke="#000" stroke-width="5.3" stroke-linecap="round"/><path d="M787.7 860.5L801.2 853" fill="none" stroke="#fff" stroke-width="3.5" stroke-linecap="round"/><path class="t" d="M788.3 861.5L801.6 854"/>
<ellipse class="t" cx="850.5" cy="814.3" rx="50.9" ry="34.1" transform="rotate(-63.5 850.5 814.3)"/>
<ellipse class="t" cx="850.5" cy="814.3" rx="45.9" ry="29.9" transform="rotate(-63.5 850.5 814.3)"/>
<g transform="translate(852.5 814.7) rotate(-65) scale(1 0.585)" fill="none" stroke="#000" stroke-linecap="butt"><circle cx="0" cy="0" r="3.4" stroke-width="1.6" pathLength="360" stroke-dasharray="78 12" stroke-dashoffset="20"/><circle cx="0" cy="0" r="6.5" stroke-width="1.6" pathLength="360" stroke-dasharray="78 12" stroke-dashoffset="20"/><circle cx="0" cy="0" r="9.7" stroke-width="2.1" pathLength="360" stroke-dasharray="78 12" stroke-dashoffset="20"/><circle cx="0" cy="0" r="12.8" stroke-width="2.1" pathLength="360" stroke-dasharray="41 4" stroke-dashoffset="20"/><circle cx="0" cy="0" r="16" stroke-width="2.1" pathLength="360" stroke-dasharray="41 4" stroke-dashoffset="20"/><circle cx="0" cy="0" r="19.1" stroke-width="2.1" pathLength="360" stroke-dasharray="41 4" stroke-dashoffset="20"/><circle cx="0" cy="0" r="22.3" stroke-width="2.1" pathLength="360" stroke-dasharray="41 4" stroke-dashoffset="20"/><circle cx="0" cy="0" r="25.4" stroke-width="2.1" pathLength="360" stroke-dasharray="41 4" stroke-dashoffset="20"/><circle cx="0" cy="0" r="28.6" stroke-width="2.1" pathLength="360" stroke-dasharray="41 4" stroke-dashoffset="20"/><circle cx="0" cy="0" r="31.7" stroke-width="2.1" pathLength="360" stroke-dasharray="41 4" stroke-dashoffset="20"/><circle cx="0" cy="0" r="34.9" stroke-width="2.1" pathLength="360" stroke-dasharray="41 4" stroke-dashoffset="20"/><circle cx="0" cy="0" r="38" stroke-width="2.1" pathLength="360" stroke-dasharray="41 4" stroke-dashoffset="20"/></g>
<path d="M827.8 809.9L989.8 717.5Q1003.7 709.6 1003.7 725.6L1003.7 862Q1003.7 874 993.3 880.1L832.9 973.9Q817.4 983 817.4 965L817.4 827.8Q817.4 815.8 827.8 809.9Z M832.9 814.3L994.8 722.1Q997.4 720.6 997.4 723.6L997.4 862Q997.4 870 990.5 874L829.4 968.4Q825.9 970.4 825.9 966.4L825.9 826.3Q825.9 818.3 832.9 814.3Z" fill="#fff" fill-rule="evenodd" stroke="none"/>
<path class="l" d="M827.8 809.9L989.8 717.5Q1003.7 709.6 1003.7 725.6L1003.7 862Q1003.7 874 993.3 880.1L832.9 973.9Q817.4 983 817.4 965L817.4 827.8Q817.4 815.8 827.8 809.9Z" style="stroke-width:1.1"/>
<path class="l" d="M832.9 814.3L994.8 722.1Q997.4 720.6 997.4 723.6L997.4 862Q997.4 870 990.5 874L829.4 968.4Q825.9 970.4 825.9 966.4L825.9 826.3Q825.9 818.3 832.9 814.3Z" style="stroke-width:1.0"/>
<path class="t" d="M829.2 811.1L991.1 718.8Q1002 712.6 1002 725.1L1002 862Q1002 872.9 992.6 878.4L832 972.4Q819.7 979.6 819.7 965.4L819.7 827.4Q819.7 816.5 829.2 811.1Z" style="stroke-width:0.55;stroke:#333"/>
<path class="t" d="M830.3 812.1L992.3 719.8Q1000.5 715.1 1000.5 724.6L1000.5 862Q1000.5 872 991.9 877.1L831.1 971.1Q821.6 976.7 821.6 965.7L821.6 827Q821.6 817 830.3 812.1Z" style="stroke-width:0.55;stroke:#333"/>
<path class="t" d="M831.5 813.1L993.4 720.9Q999.1 717.6 999.1 724.1L999.1 862Q999.1 871.1 991.3 875.7L830.3 969.9Q823.6 973.8 823.6 966L823.6 826.7Q823.6 817.6 831.5 813.1Z" style="stroke-width:0.55;stroke:#333"/>
</g>

<g id="70_small">
<path class="l" d="M106.7 358C105.5 358.4 101.5 358.5 99.1 360C96.7 361.4 94.2 364.3 92.2 366.8C90.2 369.4 88.1 372.3 86.8 375.3C85.6 378.2 85.1 381.6 84.9 384.4C84.8 387.3 85.2 389.9 86.1 392.1C86.9 394.3 88.2 396.2 89.9 397.5C91.6 398.7 94.2 399.5 96 399.8C97.8 400 99.9 399.1 100.6 399"/>
<path class="l" d="M106.7 358C107.5 358.2 109.8 358 111.3 358.8C112.9 359.6 114.5 361.2 115.9 363C117.3 364.9 119.1 368.8 119.8 369.9"/>
<path class="t" d="M95.3 371.4C96.2 370.5 98.7 367.3 100.6 366.1C102.5 364.9 104.7 364.3 106.7 364.2C108.8 364 111.8 365.1 112.9 365.3"/>
<path class="t" d="M102.1 376C102.8 375.3 104.6 372.6 106 371.4C107.4 370.3 109.8 369.5 110.6 369.1"/>
<path class="t" d="M90.7 382.1C90.8 383.4 90.7 387.6 91.4 389.8C92.2 392 93.7 393.9 95.3 395.2C96.8 396.4 99.7 397.1 100.6 397.5"/>
<path class="t" d="M96.8 383.7C96.9 384.8 96.5 388.5 97.2 390.6C97.8 392.6 100 395 100.6 395.9"/>
<ellipse class="l" cx="111.2" cy="384.8" rx="9" ry="13.2" transform="rotate(22 111.2 384.8)"/>
<ellipse class="t" cx="111" cy="383.7" rx="4.7" ry="6.1" transform="rotate(22 111 383.7)"/>
<ellipse class="l" cx="110.6" cy="384.1" rx="2.1" ry="2.9" transform="rotate(22 110.6 384.1)"/>
<ellipse class="k" cx="111.5" cy="382.1" rx="1.3" ry="1.6"/>
<path d="M110.2 385.4L122.8 391.5" fill="none" stroke="#000" stroke-width="2.6" stroke-linecap="butt" stroke-linejoin="round"/><path d="M110.2 385.4L122.8 391.5" fill="none" stroke="#fff" stroke-width="0.8" stroke-linecap="butt" stroke-linejoin="round"/>
<path d="M122.8 391.5L128.3 394.4" fill="none" stroke="#000" stroke-width="2" stroke-linecap="round" stroke-linejoin="round"/><path d="M122.8 391.5L128.3 394.4" fill="none" stroke="#fff" stroke-width="0.4" stroke-linecap="round" stroke-linejoin="round"/>
<path class="h" d="M121.4 388.7L123.6 390"/>
<path class="l" d="M113.6 361.5L123.6 363.8 124.7 360.7 127 359.2 130.5 361.5 131.2 363 135.1 360 138.9 362.2 133.5 365.3 131.2 364.9 127 372.6 120.5 369.1"/>
<ellipse class="t" cx="127.6" cy="363.6" rx="0.9" ry="0.9"/>
<path class="t" d="M115.9 363.8L122.8 367.2 126.6 372.2"/>
<path class="l" d="M99.1 399L106.7 399.8 108.3 402.8 113.2 406.3 109.8 410.5 111.7 417.4 108.7 418.9 104.8 417 105.2 412.8 102.1 408.9 101.8 403.6"/>
<path class="t" d="M103.7 402.8L108.3 405.1 106.7 410.5 109.8 415.1"/>
<path class="l" d="M86.5 373L89.1 371.4 95.3 375.3 96.8 379.1 95.3 382.1 93 383.7 89.9 382.1 87.2 376.8Z"/>
<path class="h" d="M90.7 375.3L94.5 377.6 94.5 380.6 91.4 379.1Z"/>
<path class="h" d="M91.4 382.1L94.5 382.9 93.7 385.2 91.8 384.4Z"/>
<path class="l" d="M88 372.2L97.6 378.3 100.6 382.1"/>
<path class="l" d="M215.4 401.5C214.2 400.6 210.8 397.7 208.2 396.5C205.6 395.2 202.6 394.2 199.8 394C196.9 393.9 194.3 394.4 191.3 395.7C188.4 397 185.1 399.2 182.1 401.8C179.2 404.5 176.3 408 173.7 411.8C171.2 415.6 168.7 420.5 166.8 424.8C165 429.1 163.5 434.2 162.6 437.8C161.8 441.4 161.5 443.6 161.9 446.2C162.2 448.9 163.2 451.7 164.5 453.9C165.9 456.1 167.9 458.3 169.9 459.6C171.9 461 175.3 461.5 176.4 461.9"/>
<path class="l" d="M213.9 404.9C214.1 406.1 215 409.4 215.1 411.8C215.1 414.2 214.4 418.2 214.3 419.4"/>
<path class="l" d="M214.8 432.3C213.9 434.4 211.8 440.8 209.8 444.8C207.7 448.7 205.6 452.7 202.3 456C198.9 459.3 193.5 463.1 189.8 464.7C186 466.4 181.5 465.8 179.8 466"/>
<path class="l" d="M189 398L194.4 400.3 196.7 417.9 189.4 417.9Z"/>
<path class="l" d="M196.7 417.1L209.7 398.4 215.8 401.8 205.9 416.4Z"/>
<path class="l" d="M199 425.6L215.1 420.2 221.2 422.5 210.5 427.9Z"/>
<path class="l" d="M193.6 435.5L211.2 427.9 203.6 443.9 206.6 451.6 199 447.8Z"/>
<path class="l" d="M168.4 420.2L172.2 417.1 189.8 417.9 183.7 427.9 180.6 426.3Z"/>
<path class="l" d="M180.6 427.9L164.5 445.5 170.7 453.1 182.1 444.7 180.6 435.5Z"/>
<path class="l" d="M189.8 442.3L179.8 463.5 184.8 466 199.8 444.8Z"/>
<path class="l" d="M176.1 444.8L172.3 462.2 179.8 459.7 186 439.8Z"/>
<path class="l" d="M184.4 438.6L190.6 448.5 187.5 458.5"/>
<path class="l" d="M189.8 397.2L192.9 398.8 193.6 400.3"/>
<ellipse class="k" cx="189.8" cy="428.6" rx="1.6" ry="1.6"/>
<ellipse class="k" cx="180.6" cy="422.5" rx="0.5" ry="0.5"/>
<ellipse class="k" cx="182.9" cy="430.9" rx="0.5" ry="0.5"/>
<ellipse class="k" cx="192.9" cy="424" rx="0.5" ry="0.5"/>
<ellipse class="k" cx="189.8" cy="435.1" rx="0.5" ry="0.5"/>
<ellipse class="k" cx="195.2" cy="426.3" rx="0.5" ry="0.5"/>
<ellipse class="k" cx="186.7" cy="432.5" rx="0.5" ry="0.5"/>
<ellipse class="k" cx="184.4" cy="426.3" rx="0.5" ry="0.5"/>
<path d="M215.1 443.8L221.6 447.2" fill="none" stroke="#000" stroke-width="7.2" stroke-linecap="butt"/><path d="M215.1 443.8L221.6 447.2" fill="none" stroke="#fff" stroke-width="5.4" stroke-linecap="butt"/>
<ellipse class="w" cx="215.1" cy="443.8" rx="1.9" ry="3.6" transform="rotate(-27 215.1 443.8)"/>
<ellipse class="w" cx="221.6" cy="447.2" rx="1.9" ry="3.6" transform="rotate(-27 221.6 447.2)"/>
<path class="t" d="M216 446.2L220.8 448.7"/>
<path class="l" d="M478 215.3L502.1 201.3 516.1 209.5 491.8 223.7Z"/>
<ellipse class="t" cx="497.1" cy="213.9" rx="11.5" ry="3.7" transform="rotate(-8 497.1 213.9)"/>
<ellipse class="t" cx="496.8" cy="214.1" rx="7.3" ry="2.1" transform="rotate(-8 496.8 214.1)"/>
<path class="t" d="M492.6 208.8C493.4 208.6 496.1 208.1 497.9 208C499.7 207.9 501.8 208.1 503.3 208.4C504.7 208.6 506.1 209.3 506.7 209.5"/>
<path class="l" d="M495.6 222.5C496.5 222.5 499.2 222.6 501 222.1C502.8 221.7 504.9 220.8 506.3 219.9C507.7 218.9 508.9 217.4 509.4 216.4C509.8 215.4 509.1 214.2 509 213.7"/>
<ellipse class="k" cx="502.5" cy="205.9" rx="1" ry="0.7"/>
<ellipse class="k" cx="494.1" cy="219.7" rx="1" ry="0.7"/>
<path class="l" d="M486.1 298.6C486.1 300 485.5 305 486.1 307C486.6 309.1 487.8 310 489.5 310.9C491.2 311.8 494.1 312.4 496.4 312.4C498.7 312.4 501.6 311.8 503.3 310.9C505 310 506.1 309.1 506.7 307C507.3 305 506.7 300 506.7 298.6"/>
<path class="l" d="M486.1 299.4C486.6 300.1 487.8 303 489.5 304C491.2 305 494.1 305.5 496.4 305.5C498.7 305.5 501.6 305 503.3 304C505 303 506.1 300.1 506.7 299.4"/>
<path class="l" d="M487.2 298.6L488.3 281.8 490.3 278 492.6 278.3 504 287.1 505.2 291 505.2 299.4"/>
<path class="l" d="M490.3 278.3L489.9 285.6 497.1 291 497.5 294.8 490.3 291 489.5 286.4"/>
<path class="l" d="M492.6 279.1L491.8 282.5 494.1 284.1 494.9 280.6"/>
<path class="l" d="M496.4 282.2L495.6 286.4 497.9 287.9 498.7 284.1"/>
<path class="h" d="M491.8 288.7L495.6 291.7 495.6 293.3 491.8 290.6Z"/>
<path class="t" d="M501 297.9L501 303.2 502.5 303.6 502.5 298.2Z"/>
<path class="t" d="M488 293.3C488.5 293.5 489.5 294.4 491 294.8C492.6 295.2 496.1 295.4 497.1 295.6"/>
<path class="l" d="M493.7 324.6C493.6 326.4 493.1 332.9 493.3 335.4C493.5 337.8 494.2 338.4 494.9 339.2C495.5 340 496.3 340.4 497.1 340.3C498 340.3 499.2 339.6 499.8 338.8C500.5 338 500.8 337.5 501 335.4C501.1 333.3 501 328 500.6 326.2C500.2 324.4 499 324.9 498.7 324.6"/>
<path class="h" d="M494.5 323.1L494.1 328.5 495.6 329.2 496.4 323.9"/>
<path class="l" d="M497.1 324.6L497.9 329.2 498.7 325.4"/>
<path class="t" d="M495.2 333.8C495.7 333.4 497.3 332.3 497.9 331.5C498.5 330.8 498.6 329.6 498.7 329.2"/>
<ellipse class="h" cx="497.9" cy="365.4" rx="10.9" ry="6"/>
<ellipse class="w" cx="497.8" cy="360.6" rx="7.7" ry="4.4"/>
<ellipse class="l" cx="497.8" cy="360.2" rx="6" ry="3.2"/>
<path class="h" d="M489.3 366C489.4 366.9 489.1 369.8 489.9 371.3C490.7 372.9 492.7 374.4 494.1 375.2C495.4 376 496.5 376.1 497.9 376.1C499.3 376.1 501.1 375.9 502.5 375.2C503.9 374.4 505.6 373.2 506.3 371.7C507.1 370.3 506.8 367.3 506.9 366.4"/>
<path class="l" d="M488 366.7C488.7 367.4 490.9 369.7 492.6 370.6C494.2 371.4 496.1 371.7 497.9 371.7C499.7 371.7 501.6 371.4 503.3 370.6C504.9 369.7 507.1 367.4 507.9 366.7"/>
<path class="l" d="M490.3 368.3C490.9 368.5 492.8 369.5 494.1 369.8C495.4 370.1 496.5 370.2 497.9 370.2C499.3 370.2 501.2 370 502.5 369.7C503.8 369.3 505.4 368.4 506 368.1"/>
<path class="t" d="M489.5 369.8C490.1 370.4 491.9 372.5 493.3 373.2C494.7 374 496.3 374.2 497.9 374.2C499.5 374.2 501.4 374 502.9 373.2C504.4 372.5 506.1 370.4 506.7 369.8"/>
<path class="t" d="M491.4 368.7C492.5 369 495.7 371 497.9 371C500.1 371 503.7 369 504.8 368.7"/>
<path class="l" d="M726.7 494.1C728.5 492.1 730.8 490.5 732.9 489.6C734.9 488.8 736.8 488.3 739 488.7C741.2 489.2 743.6 490.9 745.9 492.2C748.2 493.4 750.9 494.8 752.8 496.4C754.7 498 756.3 499.8 757.2 501.7C758.1 503.7 758.7 505.5 758.3 508.2C757.9 511 756.6 515.6 754.7 518.2C752.8 520.8 749.3 523 747 524.1C744.7 525.2 743.3 525.5 740.9 524.9C738.5 524.3 735.4 521.9 732.9 520.5C730.4 519 727.8 517.9 726 516.1C724.2 514.4 722.6 512.6 721.9 510.2C721.3 507.8 721.3 504.4 722.1 501.7C723 499.1 725 496.1 726.7 494.1Z"/>
<ellipse class="w" cx="718.7" cy="494.9" rx="5.5" ry="5.7"/>
<path class="l" d="M724.2 493.5C724.5 493.6 725.4 494 726 494.1C726.6 494.2 727.6 494 727.9 493.9"/>
<path class="l" d="M720.6 499.8C720.8 500 721.4 500.5 721.8 501C722.1 501.5 722.4 502.6 722.5 502.9"/>
<path class="t" d="M749.7 500.2C748.7 501.2 745.2 504.3 743.6 506.3C742 508.4 740.9 510.5 740.1 512.5C739.4 514.4 739.2 517.2 739 518.2"/>
<ellipse class="w" cx="644" cy="524.9" rx="3.6" ry="3.6"/>
<path class="l" d="M639.4 522.1L640.6 524.3"/>
<path class="t" d="M645.4 523.7L644.2 526.3"/>
<ellipse class="w" cx="475.7" cy="619.5" rx="3.6" ry="3.6"/>
<path class="l" d="M471.1 616.7L472.3 618.9"/>
<path class="t" d="M477.1 618.3L475.9 620.9"/>
<ellipse class="w" cx="455.4" cy="642.7" rx="4.4" ry="6.8" transform="rotate(-22 455.4 642.7)" style="stroke-width:1.2"/>
<ellipse class="l" cx="455.6" cy="642.9" rx="2.9" ry="5" transform="rotate(-22 455.6 642.9)"/>
<ellipse class="l" cx="455.8" cy="643.1" rx="1.3" ry="2.3" transform="rotate(-22 455.8 643.1)"/>
<path class="l" d="M453.3 639L458.5 647"/>
<path class="t" d="M442.2 650.5L451.4 645.1"/>
<ellipse class="w" cx="271.3" cy="748.7" rx="6.3" ry="8.3" transform="rotate(-28 271.3 748.7)" style="stroke-width:1.2"/>
<ellipse class="l" cx="271.2" cy="748.9" rx="2.8" ry="4" transform="rotate(-28 271.2 748.9)"/>
<path class="l" d="M253.5 770.9L258.1 782.3"/>
<path class="l" d="M255.5 770.8L260.4 781.3"/>
<path class="t" d="M254.5 770.9L259.3 781.8"/>
<path class="w" d="M242.2 754.1L249.5 748 255.6 746.4 264.4 756.4 264.4 764.8 258.7 767.9 256.4 766.7 254.9 757.9 248 751Z"/>
<path class="w" d="M242.2 754.1L248 751 254.9 757.9 256.4 766.7 251 770.9 244.1 764.8Z"/>
<path class="l" d="M242.2 754.1L249.5 748 255.6 746.4 264.4 756.4 264.4 764.8 258.7 767.9"/>
<path class="t" d="M254.9 757.9L264.4 756.4"/>
<path class="l" d="M248 751L255.6 746.4"/>
<ellipse class="t" cx="249.3" cy="761.1" rx="4.7" ry="7" transform="rotate(-22 249.3 761.1)"/>
<ellipse class="k" cx="248.9" cy="761.7" rx="1" ry="1.5" transform="rotate(-20 248.9 761.7)"/>
<path class="l" d="M251 770.9L254.1 771.7 257.1 769.4"/>
</g>

<g id="75_sensor">
<path class="l" d="M232.7 151.5L266.5 170.3"/>
<path class="l" d="M228.1 158.6L265.7 180.5"/>
<path d="M267.2 177.8L322.4 209" fill="none" stroke="#000" stroke-width="9.6" stroke-linecap="butt" stroke-linejoin="round"/><path d="M267.2 177.8L322.4 209" fill="none" stroke="#fff" stroke-width="7.7" stroke-linecap="butt" stroke-linejoin="round"/>
<path class="h" d="M274.7 176.7Q269.1 178.8 268.2 183.6" style="stroke-width:2.0"/>
<path class="h" d="M281.6 180.6Q276 182.7 275.1 187.5" style="stroke-width:2.0"/>
<path class="h" d="M288.5 184.5Q282.9 186.6 282 191.4" style="stroke-width:2.0"/>
<path class="h" d="M295.4 188.4Q289.8 190.5 288.9 195.3" style="stroke-width:2.0"/>
<path class="h" d="M302.3 192.3Q296.7 194.4 295.8 199.2" style="stroke-width:2.0"/>
<path class="h" d="M309.1 196.2Q303.6 198.3 302.7 203.1" style="stroke-width:2.0"/>
<path class="h" d="M316 200.1Q310.5 202.2 309.6 207" style="stroke-width:2.0"/>
<path class="h" d="M322.9 204Q317.3 206.1 316.5 210.9" style="stroke-width:2.0"/>
<ellipse class="l" cx="268" cy="178" rx="2.2" ry="4.4" transform="rotate(-30 268 178)"/>
<ellipse class="l" cx="273" cy="180.7" rx="2.2" ry="4.4" transform="rotate(-30 273 180.7)"/>
<ellipse class="l" cx="278" cy="183" rx="2.2" ry="4.4" transform="rotate(-30 278 183)"/>
<path d="M323.5 209L355.7 227.4" fill="none" stroke="#000" stroke-width="10.8" stroke-linecap="butt" stroke-linejoin="round"/><path d="M323.5 209L355.7 227.4" fill="none" stroke="#fff" stroke-width="8.9" stroke-linecap="butt" stroke-linejoin="round"/>
<ellipse class="w" cx="355.7" cy="227.4" rx="3.6" ry="5.4" transform="rotate(-30 355.7 227.4)"/>
<ellipse class="t" cx="355.3" cy="227.4" rx="1.6" ry="2.8" transform="rotate(-30 355.3 227.4)"/>
<path class="l" d="M326.3 204.4C325.6 205.1 322.8 207 321.9 208.6C321 210.2 321.1 213.1 320.9 214"/>
<path class="t" d="M326.6 206.7L338.4 213.6"/>
<path class="t" d="M343 217L353 222.8"/>
<path class="t" d="M323.1 212.8L335.4 219.6"/>
<path class="t" d="M340 221.2L350.7 227.4"/>
<path class="l" d="M265.8 169.2L265.8 154 271.4 150.1 274.3 151.5 274.3 162.5 292.1 172.7 293.2 176.4 287.4 180.2 284.9 179.2"/>
<path class="t" d="M267.4 170.7L267.4 154.9 271.8 151.7 272.6 152.7 272.6 163.6 291.1 174.4 287.4 178.6"/>
<path class="l" d="M265.8 169.2L287.4 180.2"/>
<path d="M316.4 403.1L351.8 423.1" fill="none" stroke="#000" stroke-width="2.2" stroke-linecap="butt" stroke-linejoin="round"/><path d="M316.4 403.1L351.8 423.1" fill="none" stroke="#fff" stroke-width="0.6" stroke-linecap="butt" stroke-linejoin="round"/>
<path class="l" d="M329.9 410.6L351.8 423.1" style="stroke-width:1.8;stroke-dasharray:0.8 1.3;stroke-linecap:butt"/>
<path class="l" d="M327.4 401.9L329.3 406.9 333.7 408.7 332.4 405.6"/>
<path class="t" d="M308.1 404.4C308.5 404 309.8 402.1 310.6 401.9C311.4 401.7 312.2 403.3 313.1 403.1C313.9 402.9 315.2 401 315.6 400.6"/>
<path class="t" d="M309.3 405.6C309.8 405.2 311 403.3 311.8 403.1C312.7 402.9 313.9 404.2 314.3 404.4"/>
</g>

<g id="leaders" class="t" stroke-linecap="butt">
<path d="M304.2 233.5H334.8V222.3"/>
<path d="M141.9 290.7H157.8V307.4"/>
<path d="M214.8 371.6H199.8V394"/>
<path d="M204 481.7H216.8V448.5"/>
<path d="M254.7 536.9V552.3H297.6"/>
<path d="M528.6 193.2H507.4V202.4"/>
<path d="M570.5 240.4H549.3V258.6"/>
<path d="M541 314.3V325.5H499.9"/>
<path d="M543.5 356.7V368.4H509.1"/>
<path d="M801.7 496.1V506.6H758.5"/>
<path d="M773 595.5V615.2H736"/>
<path d="M487.4 652.4H476.1V621.2"/>
<path d="M466.7 669.1H454.9V646.1"/>
<path d="M585.2 736V750.2H558.5"/>
<path d="M594 799.9V813.1H565.8"/>
<path d="M248.6 722.3H270.3V741"/>
<path d="M228.2 789.7H250.4V769.8"/>
<path d="M808.6 707.4V736.1H796.1"/>
<path d="M941.4 700V719.9H919.7"/>
<path d="M1038.8 726.2V737.4H1004.6"/>
</g>

<g id="labels" class="lab">
<text x="253.2" y="239.8" transform="translate(0 239.8) scale(1 1.04) translate(0 -239.8)">0985</text>
<text x="93.1" y="298.1" transform="translate(0 298.1) scale(1 1.04) translate(0 -298.1)">0990</text>
<text x="220.4" y="379.2" transform="translate(0 379.2) scale(1 1.04) translate(0 -379.2)">0993</text>
<text x="157.7" y="487.8" transform="translate(0 487.8) scale(1 1.04) translate(0 -487.8)">0994</text>
<text x="230.2" y="530" transform="translate(0 530) scale(1 1.04) translate(0 -530)">0934</text>
<text x="542.2" y="198.8" transform="translate(0 198.8) scale(1 1.04) translate(0 -198.8)">0941</text>
<text x="583.9" y="246.2" transform="translate(0 246.2) scale(1 1.04) translate(0 -246.2)">0937</text>
<text x="522.3" y="307.4" transform="translate(0 307.4) scale(1 1.04) translate(0 -307.4)">0939</text>
<text x="520.3" y="349.8" transform="translate(0 349.8) scale(1 1.04) translate(0 -349.8)">0944</text>
<text x="784.1" y="491.3" transform="translate(0 491.3) scale(1 1.04) translate(0 -491.3)">0925</text>
<text x="755.4" y="590.4" transform="translate(0 590.4) scale(1 1.04) translate(0 -590.4)">0905</text>
<text x="490.3" y="658" transform="translate(0 658) scale(1 1.04) translate(0 -658)">0925</text>
<text x="469.4" y="675.4" transform="translate(0 675.4) scale(1 1.04) translate(0 -675.4)">0950</text>
<text x="567.7" y="729.1" transform="translate(0 729.1) scale(1 1.04) translate(0 -729.1)">0908</text>
<text x="576.4" y="791.8" transform="translate(0 791.8) scale(1 1.04) translate(0 -791.8)">0935</text>
<text x="199.1" y="729.9" transform="translate(0 729.9) scale(1 1.04) translate(0 -729.9)">0949</text>
<text x="180.4" y="796.1" transform="translate(0 796.1) scale(1 1.04) translate(0 -796.1)">0948</text>
<text x="791.6" y="702" transform="translate(0 702) scale(1 1.04) translate(0 -702)">0903</text>
<text x="924.1" y="694.6" transform="translate(0 694.6) scale(1 1.04) translate(0 -694.6)">0901</text>
<text x="1021.2" y="720.8" transform="translate(0 720.8) scale(1 1.04) translate(0 -720.8)">0911</text>
</g>
<text x="14.8" y="997.3" font-size="20.5px" style="stroke-width:0.26px">58300000182484 aet 009 a</text>

</svg>
</body>
</html>
